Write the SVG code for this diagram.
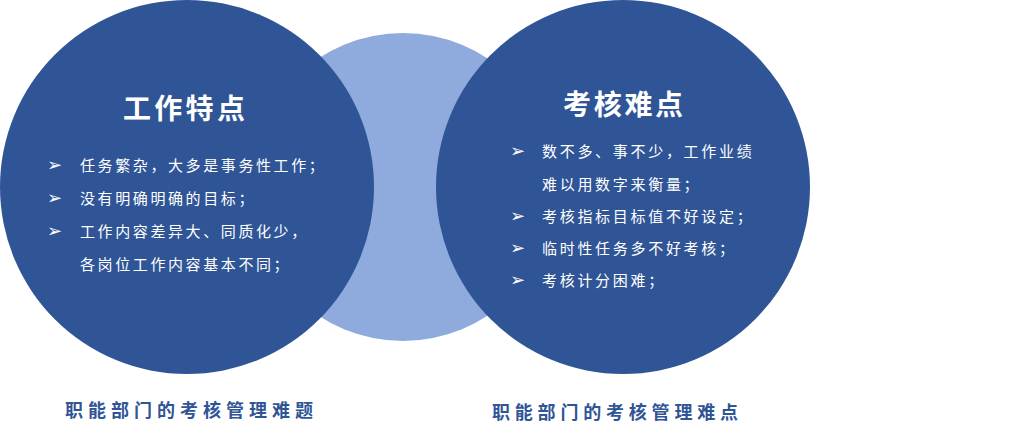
<svg xmlns="http://www.w3.org/2000/svg" width="1024" height="438" viewBox="0 0 1024 438">
<style>
.dark{fill:#2F5597}
.light{fill:#8FAADC}
.title{font-family:"Noto Sans CJK SC",sans-serif;font-size:28px;font-weight:bold;fill:#FFFFFF}
.item{font-family:"Noto Sans CJK SC",sans-serif;font-size:15px;fill:#FFFFFF}
.arrow{font-family:"DejaVu Sans",sans-serif;font-size:18px;fill:#FFFFFF}
.label{font-family:"Noto Sans CJK SC",sans-serif;font-size:18px;font-weight:bold;fill:#2F5597}
</style>
<rect width="1024" height="438" fill="#FFFFFF"/>
<g id="middle">
<circle class="light" cx="403" cy="187" r="154"/>
</g>
<g id="left-node">
<circle class="dark" cx="187" cy="187" r="187"/>
<text class="title" x="123" y="119" style="letter-spacing:3.3px">工作特点</text>
<text class="arrow" x="47" y="171">➢</text>
<text class="item" x="80" y="171" style="letter-spacing:2.6px">任务繁杂，大多是事务性工作；</text>
<text class="arrow" x="47" y="204">➢</text>
<text class="item" x="80" y="204" style="letter-spacing:2.6px">没有明确明确的目标；</text>
<text class="arrow" x="47" y="237">➢</text>
<text class="item" x="80" y="237" style="letter-spacing:2.6px">工作内容差异大、同质化少，</text>
<text class="item" x="80" y="270" style="letter-spacing:2.6px">各岗位工作内容基本不同；</text>
</g>
<g id="right-node">
<circle class="dark" cx="623" cy="187" r="187"/>
<text class="title" x="563" y="115" style="letter-spacing:2.7px">考核难点</text>
<text class="arrow" x="510" y="157">➢</text>
<text class="item" x="542" y="157" style="letter-spacing:2.7px">数不多、事不少，工作业绩</text>
<text class="item" x="542" y="189.5" style="letter-spacing:2.7px">难以用数字来衡量；</text>
<text class="arrow" x="510" y="222">➢</text>
<text class="item" x="542" y="222" style="letter-spacing:2.7px">考核指标目标值不好设定；</text>
<text class="arrow" x="510" y="254">➢</text>
<text class="item" x="542" y="254" style="letter-spacing:2.7px">临时性任务多不好考核；</text>
<text class="arrow" x="510" y="286">➢</text>
<text class="item" x="542" y="286" style="letter-spacing:2.7px">考核计分困难；</text>
</g>
<g id="labels">
<text class="label" x="65" y="417" style="letter-spacing:5px">职能部门的考核管理难题</text>
<text class="label" x="492" y="419" style="letter-spacing:4.8px">职能部门的考核管理难点</text>
</g>
<g id="connectors"></g>
</svg>
